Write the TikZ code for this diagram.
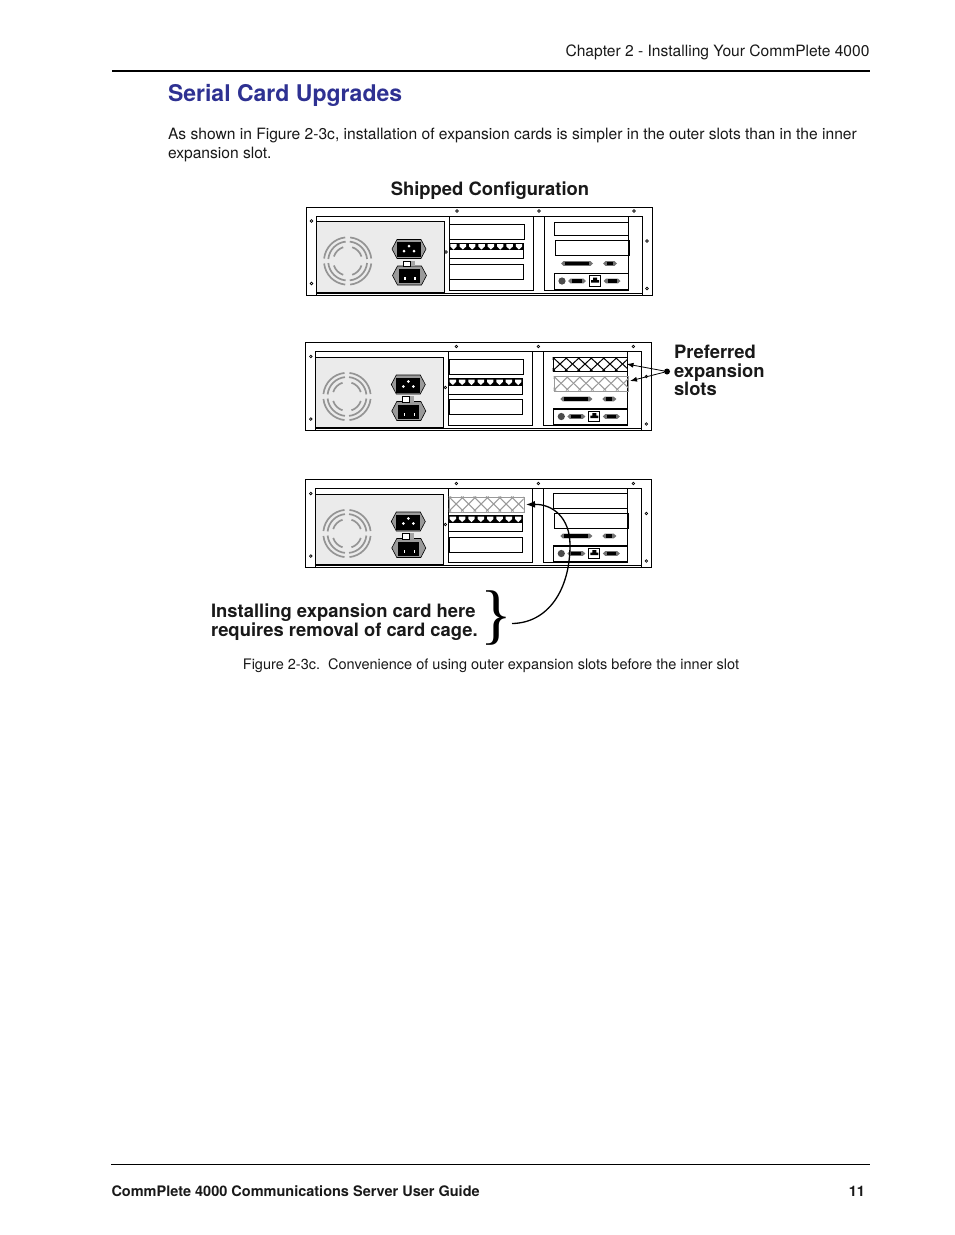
\documentclass[tikz,border=0pt]{standalone}
\usepackage{fontspec}
\setmainfont{TeX Gyre Heros}
\newfontfamily\bracefont{Liberation Serif}
\usetikzlibrary{arrows.meta}
\definecolor{titleblue}{HTML}{2E3192}
\definecolor{panelgray}{HTML}{EBEBEB}
\definecolor{hexgray}{HTML}{9A9A9A}
\tikzset{
  txt/.style={anchor=base west,inner sep=0pt,outer sep=0pt,text=black!90},
  body/.style={txt,font=\fontsize{15.6}{18}\selectfont},
  boldlabel/.style={txt,font=\fontsize{18.4}{20}\selectfont\bfseries},
  wire/.style={draw=black,line width=0.9pt},
  fanring/.style={draw=black!42,line width=1.7pt},
  screw/.style={draw=black,fill=white,line width=0.7pt},
  pointer/.style={draw=black,line width=0.8pt,-{Latex[length=7pt,width=5pt]}},
  hatchline/.style={line width=1pt}
}
\newcommand{\screwat}[2]{\draw[screw] (#1,#2) circle (1.3);}
\newcommand{\fan}[2]{%
  \foreach \r in {23.7,19.5}{\foreach \a in {0,90,180,270}{
    \draw[fanring] ({#1+\r*cos(\a+6)},{#2+\r*sin(\a+6)}) arc[start angle=\a+6,end angle=\a+84,radius=\r];}}
  \foreach \a in {0,90,180,270}{
    \draw[fanring] ({#1+14.5*cos(\a+18)},{#2+14.5*sin(\a+18)}) arc[start angle=\a+18,end angle=\a+72,radius=14.5];}
}
\newcommand{\hexconn}[2]{%
  \fill[hexgray,draw=black,line width=0.6pt] (#1-17,#2) -- (#1-12,#2-9.5) -- (#1+12,#2-9.5) -- (#1+17,#2) -- (#1+12,#2+9.5) -- (#1-12,#2+9.5) -- cycle;
}
\newcommand{\dsub}[3]{%
  \fill[black!55] (#1-#3/2,#2) -- (#1-#3/2+2.5,#2-2.4) -- (#1+#3/2-2.5,#2-2.4) -- (#1+#3/2,#2) -- (#1+#3/2-2.5,#2+2.4) -- (#1-#3/2+2.5,#2+2.4) -- cycle;
  \fill[black] (#1-#3/2+4,#2-1.7) rectangle (#1+#3/2-4,#2+1.7);
}
\newcommand{\hatchcard}[6]{% x1 y1 x2 y2 colour name
  \begin{scope}
    \clip (#1,#2) rectangle (#3,#4);
    \foreach \k in {-2,...,8}{
      \draw[hatchline,#5] ({#1+\k*12.5},#2) -- ({#1+\k*12.5+15},#4);
      \draw[hatchline,#5] ({#1+\k*12.5+15},#2) -- ({#1+\k*12.5},#4);}
  \end{scope}
  \node[wire,#5,inner sep=0pt,minimum width=#3pt-#1pt,minimum height=#4pt-#2pt,anchor=north west] (#6) at (#1,#2) {};
}
% panel: dx dy, hatch flags drawn by caller
\newcommand{\panel}[2]{%
\begin{scope}[shift={(#1,#2)}]
  \draw[wire] (306,207) rectangle (652.5,295);
  \draw[wire] (316.5,295) -- (316.5,216) -- (642,216) -- (642,295);
  \draw[wire] (316.5,293) -- (642,293);
  \filldraw[wire,fill=panelgray] (316.5,221.5) rectangle (444.5,292);
  \fan{347.7}{261}
  \hexconn{409}{249}
  \fill[black] (397,242) rectangle (421,257);
  \foreach \xx/\yy in {404/251,414/251,409/246}{\fill[white] (\xx,\yy) circle (1.5);}
  \hexconn{409.5}{275.5}
  \fill[black] (399,269) rectangle (420,283);
  \foreach \xx in {405,415}{\fill[white] (\xx-0.6,277) rectangle (\xx+0.6,280);}
  \fill[black!35] (410,260.5) rectangle (415,266);
  \filldraw[draw=black,fill=white,line width=0.7pt] (403,261) rectangle (410,266.5);
  \draw[wire] (449.3,216) -- (449.3,290) -- (533.5,290) -- (533.5,216);
  \draw[wire] (544.5,216) -- (544.5,290) -- (628.5,290);
  \draw[wire] (628.5,216) -- (628.5,290);
  \draw[wire] (449.3,243) rectangle (523.5,258.5);
  \fill[black] (449.3,243) rectangle (523.5,250.2);
  \foreach \k in {0,...,7}{
    \fill[white] ({453.5+\k*9.35-3.2},244.2) -- ({453.5+\k*9.35+3.2},244.2) -- ({453.5+\k*9.35+3.2},246.5) -- ({453.5+\k*9.35},249.5) -- ({453.5+\k*9.35-3.2},246.5) -- cycle;}
  \screwat{457}{211}\screwat{539}{211}\screwat{634}{211}
  \screwat{311.5}{221}\screwat{311.5}{283.5}
  \screwat{647}{241}\screwat{647}{288.5}\screwat{446}{252}
  \dsub{577}{263.5}{32}
  \dsub{610}{263.5}{14}
  \filldraw[wire] (554,273) rectangle (628,289);
  \fill[white] (555,274) rectangle (627.5,288.5);
  \fill[black!70] (562,281) circle (3.6);
  \dsub{577}{281}{18}
  \filldraw[draw=black,fill=white,line width=0.8pt] (589.5,275.5) rectangle (600,286);
  \fill[black] (591,282.5) -- (591,280) -- (593,280) -- (593,277.5) -- (597,277.5) -- (597,280) -- (599,280) -- (599,282.5) -- cycle;
  \dsub{612}{281}{17}
\end{scope}}
\begin{document}
\begin{tikzpicture}[x=1pt,y=-1pt]
\useasboundingbox[fill=white] (0,0) rectangle (954,1235);
\node[body,anchor=base east] (chap) at (869.5,56) {Chapter 2 - Installing Your CommPlete 4000};
\coordinate (ruleAl) at (112,71); \coordinate (ruleAr) at (869.5,71);
\draw[line width=1.5pt] (ruleAl) -- (ruleAr);
\node[txt,font=\fontsize{23}{26}\selectfont\bfseries,text=titleblue] (title) at (168,101.5) {Serial Card Upgrades};
\node[body] (para1) at (168,139) {As shown in Figure 2-3c, installation of expansion cards is simpler in the outer slots than in the inner};
\node[body] (para2) at (168,158) {expansion slot.};
\node[boldlabel,anchor=base] (ship) at (490,195.5) {Shipped Configuration};

\panel{0}{0}
\panel{-0.7}{135.5}
\panel{-0.7}{272.5}

% plain cards, panel 1
\node[wire,inner sep=0pt,minimum width=74.5pt,minimum height=15pt,anchor=north west] (c1a) at (449.3,223.5) {};
\node[wire,inner sep=0pt,minimum width=73.5pt,minimum height=15pt,anchor=north west] (c1c) at (449.3,263.5) {};
\node[wire,inner sep=0pt,minimum width=74pt,minimum height=13.5pt,anchor=north west] (c1d) at (553.5,221.5) {};
\node[wire,inner sep=0pt,minimum width=74pt,minimum height=15pt,anchor=north west] (c1e) at (554.5,240) {};
% panel 2
\node[wire,inner sep=0pt,minimum width=74.5pt,minimum height=15pt,anchor=north west] (c2a) at (448.6,359) {};
\node[wire,inner sep=0pt,minimum width=73.5pt,minimum height=15pt,anchor=north west] (c2c) at (448.6,399) {};
\hatchcard{552.5}{357}{627}{371}{black}{c2d}
\hatchcard{553.5}{376}{628}{390.5}{black!40}{c2e}
% panel 3
\hatchcard{448.6}{496.5}{523.5}{511.5}{black!40}{c3a}
\node[wire,inner sep=0pt,minimum width=73.5pt,minimum height=15pt,anchor=north west] (c3c) at (448.6,536.5) {};
\node[wire,inner sep=0pt,minimum width=74.5pt,minimum height=15pt,anchor=north west] (c3d) at (552.5,493) {};
\node[wire,inner sep=0pt,minimum width=74.5pt,minimum height=15pt,anchor=north west] (c3e) at (553.5,513) {};

% preferred
\node[boldlabel] (pref1) at (674,358.5) {Preferred};
\node[boldlabel] (pref2) at (674,377.5) {expansion};
\node[boldlabel] (pref3) at (674,395) {slots};
\node[circle,fill=black,inner sep=0pt,minimum size=6pt] (dot) at (667,371.5) {};
\coordinate (tipA) at (626.5,364);
\coordinate (tipB) at (630,381);
\draw[pointer] (dot) -- (tipA);
\draw[pointer] (dot) -- (tipB);

% installing
\node[boldlabel] (inst1) at (211,617) {Installing expansion card here};
\node[boldlabel] (inst2) at (211,636) {requires removal of card cage.};
\node[anchor=center,inner sep=0pt,font=\fontsize{66}{66}\selectfont\bracefont] (brace) at (496.5,618) {\}};
\coordinate (curveStart) at (512,623.5);
\coordinate (curveEnd) at (526,504.5);
\draw[draw=black,line width=1.3pt,-{Latex[length=9pt,width=7pt]}] (curveStart) .. controls (548,623) and (570,590) .. (570,545) .. controls (570,518) and (553,504) .. (curveEnd);

\node[txt,font=\fontsize{14.5}{17}\selectfont,anchor=base] (cap) at (491,669) {Figure 2-3c.\ \ Convenience of using outer expansion slots before the inner slot};

\coordinate (ruleBl) at (111,1164.5); \coordinate (ruleBr) at (870,1164.5);
\draw[line width=1.5pt] (ruleBl) -- (ruleBr);
\node[txt,font=\fontsize{14.5}{17}\selectfont\bfseries] (foot) at (111.5,1196) {CommPlete 4000 Communications Server User Guide};
\node[txt,font=\fontsize{14.5}{17}\selectfont\bfseries,anchor=base east] (pg) at (865,1196) {11};
\end{tikzpicture}
\end{document}
